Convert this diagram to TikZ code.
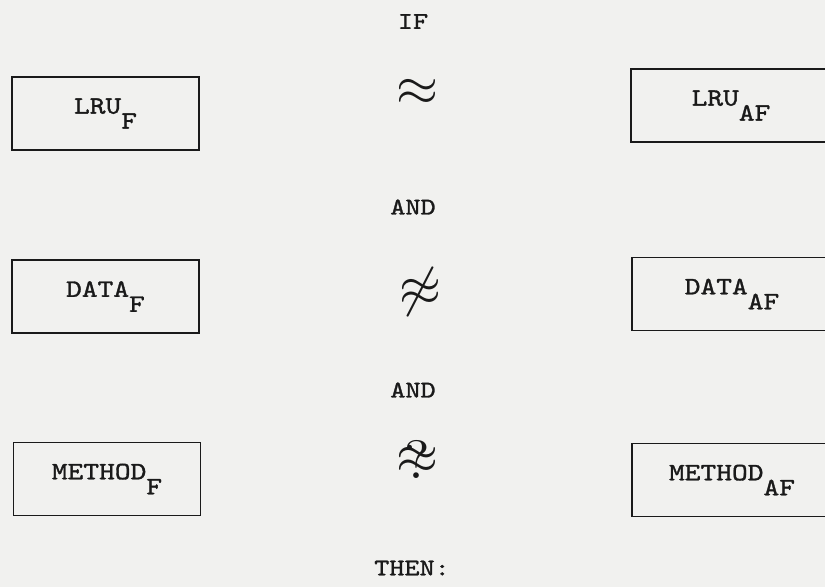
\documentclass[tikz,border=0pt]{standalone}
\usepackage{fontspec}
\usepackage{graphicx}
\usepackage{tikz}
\newfontfamily\typer{lmmono10-regular.otf}[FakeBold=1.3,FakeStretch=1.2]
\definecolor{ink}  {HTML}{1A1A1A}
\definecolor{paper}{HTML}{F1F1EF}
\newcommand{\lowsub}[1]{\raisebox{-15pt}{#1}}
\tikzset{
  box/.style  ={draw=ink, line width=1.6pt, text=ink,
                minimum width=187pt, minimum height=73pt, inner sep=0pt,
                font=\typer\fontsize{25}{29}\selectfont},
  wbox/.style ={box, minimum width=200pt},
  word/.style ={text=ink, inner sep=0pt,
                font=\typer\fontsize{24}{28}\selectfont},
  rel/.style  ={text=ink, inner sep=0pt},
}
\begin{document}
\begin{tikzpicture}[x=1pt,y=-1pt]
  \useasboundingbox[fill=paper] (0,0) rectangle (825,587);
  \clip (0,0) rectangle (825,587);
  % words down the middle
  \node[word] (ifw)   at (413,21.5) {IF};
  \node[word] (and1)  at (413,207)  {AND};
  \node[word] (and2)  at (413,390)  {AND};
  \node[word] (thenw) at (412,568)  {THEN:};
  % left column
  \node[box] (lruf) at (105.5,113.5) {LRU\lowsub{F}};
  \node[box] (datf) at (105.5,296.5) {DATA\lowsub{F}};
  \node[box] (metf) at (107,479)     {METHOD\lowsub{F}};
  % right column, cut off by the page edge
  \node[wbox] (lruaf) at (731,105.5) {LRU\lowsub{AF}};
  \node[wbox] (dataf) at (732,294)   {DATA\lowsub{AF}};
  \node[wbox] (metaf) at (732,480)   {METHOD\lowsub{AF}};
  % relations
  \node[rel] (rel1) at (417,92)  {\scalebox{5.4}{$\approx$}};
  \node[rel] (rel2) at (420,292) {\scalebox{5.4}{$\not\approx$}};
  \node[rel] (rel3) at (417,463)
    {\scalebox{5.4}{\ooalign{$\approx$\cr\hidewidth\raisebox{-1pt}{?}\hidewidth\cr}}};
\end{tikzpicture}
\end{document}
